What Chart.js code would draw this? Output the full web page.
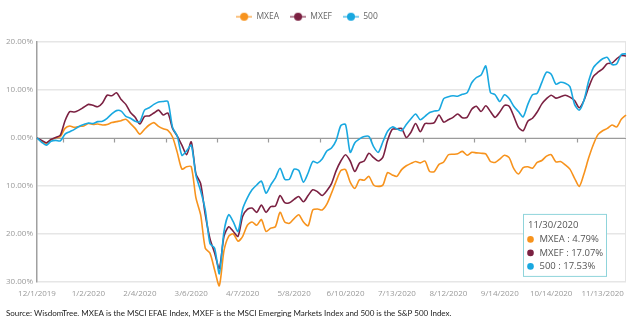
<!DOCTYPE html>
<html>
<head>
<meta charset="utf-8">
<script src="https://cdn.jsdelivr.net/npm/chart.js@4.4.0/dist/chart.umd.min.js"></script>
<style>
  html, body { margin: 0; padding: 0; background: #fff; }
  #wrap { width: 640px; height: 324px; position: relative; }
</style>
</head>
<body>
<div id="wrap"><canvas id="perf_chart"></canvas></div>
<script>
// labelled dates on the x axis, one every STEP points
const tickLabels = [
  "12/1/2019", "1/2/2020", "2/4/2020", "3/6/2020", "4/7/2020", "5/8/2020",
  "6/10/2020", "7/13/2020", "8/12/2020", "9/14/2020", "10/14/2020", "11/13/2020",
];
const STEP = 11;
const lastDate = "11/30/2020";
const sourceText = "Source: WisdomTree. MXEA is the MSCI EFAE Index, MXEF is the MSCI Emerging Markets Index and 500 is the S&P 500 Index.";

// cumulative return, % (about every 2nd trading day)
const mxea = [
  0, -0.7, -1.1, -0.4, 0, 0.3, 2.0, 2.5, 2.2, 2.4,
  2.5, 3.0, 2.8, 2.9, 2.7, 2.8, 3.2, 3.4, 3.6, 3.9,
  3.0, 2.0, 0.8, 1.8, 2.7, 3.2, 2.4, 1.9, 1.6, 0.2,
  -3.0, -6.5, -6.0, -6.0, -12.5, -16.0, -23.0, -24.0, -27.5, -30.8,
  -23.5, -20.5, -20.0, -21.5, -20.5, -18.2, -17.5, -18.2, -17.0, -19.5,
  -18.8, -18.5, -15.5, -17.5, -17.8, -16.8, -16.0, -17.5, -18.3, -15.0,
  -14.8, -15.0, -13.8, -11.5, -9.0, -6.8, -6.6, -9.2, -10.5, -8.7,
  -8.8, -8.0, -9.8, -10.1, -9.8, -7.2, -7.7, -8.0, -6.6, -5.8,
  -5.3, -4.9, -5.2, -4.8, -7.0, -7.0, -5.5, -5.0, -3.5, -3.4,
  -3.3, -2.8, -3.6, -3.0, -3.1, -3.2, -3.3, -4.9, -5.1, -4.4,
  -3.6, -4.1, -6.4, -7.5, -6.2, -6.0, -6.3, -5.1, -4.7, -3.8,
  -3.5, -5.0, -4.9, -5.6, -6.5, -8.4, -10.1, -7.5, -4.2, -1.4,
  0.7, 1.5, 2.0, 2.7, 2.3, 3.9, 4.79,
];
const mxef = [
  0, -0.5, -1.0, -0.3, 0.1, 0.6, 3.6, 5.5, 5.4, 5.8,
  6.4, 7.0, 6.8, 6.5, 7.3, 8.9, 8.8, 9.4, 8.0, 7.0,
  5.3, 4.3, 2.9, 4.5, 4.6, 5.2, 5.8, 4.8, 5.2, 2.0,
  0.4, -1.5, -3.5, -0.8, -7.5, -9.5, -16.0, -21.0, -24.0, -27.2,
  -20.5, -18.5, -19.5, -20.5, -16.3, -14.9, -14.6, -15.5, -14.0, -15.5,
  -14.3, -14.2, -12.0, -13.5, -13.5, -12.8, -12.2, -13.3, -12.0, -10.8,
  -11.2, -12.0, -11.0, -9.5, -6.8, -4.8, -3.5, -4.8, -7.0, -5.2,
  -4.8, -3.2, -4.1, -4.8, -4.0, -0.5, 1.8, 1.9, 2.0, 0.1,
  1.2, 3.0, 1.3, 3.0, 3.0, 3.2, 4.8, 3.3, 3.8, 4.3,
  5.0, 4.2, 4.3, 6.0, 6.6, 5.5, 6.7, 5.5, 4.3, 5.4,
  6.8, 6.6, 4.5, 2.2, 1.5, 3.5, 4.1, 5.4, 7.1, 8.2,
  8.9, 8.3, 8.6, 8.9, 8.5, 7.8, 6.3, 7.8, 10.5, 12.8,
  13.7, 14.4, 15.5, 15.6, 16.5, 17.2, 17.07,
];
const sp500 = [
  0, -0.9, -1.5, -0.7, -0.5, -0.6, 0.8, 1.3, 1.8, 2.4,
  2.8, 3.1, 3.0, 3.4, 3.5, 4.1, 5.0, 5.7, 5.6, 4.5,
  4.1, 3.5, 3.4, 5.8, 6.3, 7.0, 7.5, 7.6, 7.6, 2.2,
  0.4, -3.6, -2.7, -1.5, -7.8, -11.0, -15.0, -22.0, -23.0, -28.3,
  -19.5, -16.0, -17.5, -19.5, -14.8, -12.5, -10.8, -9.8, -9.0, -11.5,
  -9.8, -8.3, -6.3, -8.6, -8.6, -6.5, -6.8, -9.2, -7.3, -4.9,
  -5.2, -4.4, -2.7, -2.1, -0.5, 2.6, 2.8, -3.0, -1.0, -0.2,
  0.3, 0.3, -1.8, -3.0, -0.8, 1.4, 2.3, 1.9, 1.5, 2.8,
  4.0, 5.0, 3.8, 4.5, 5.3, 5.6, 5.8, 8.2, 8.6, 8.8,
  8.7, 9.1, 9.4, 11.5, 12.6, 13.1, 15.0, 9.5, 9.0, 7.6,
  9.0, 8.2, 6.6, 5.5, 4.4, 7.0, 9.0, 9.3, 11.6, 13.7,
  13.3, 11.2, 11.6, 11.4, 10.7, 7.0, 5.8, 7.8, 11.8, 14.6,
  15.7, 16.5, 16.8, 15.3, 15.4, 17.4, 17.53,
];

const COLORS = { mxea: "#F7931D", mxef: "#7B2142", sp500: "#19A8E0" };
const FONT = "'Open Sans', 'DejaVu Sans', sans-serif";

// legend marker: short line with a dot in the middle
function legendMark(color) {
  const c = document.createElement("canvas");
  c.width = 16; c.height = 10;
  const g = c.getContext("2d");
  g.globalAlpha = 0.55;
  g.strokeStyle = color; g.lineWidth = 2;
  g.beginPath(); g.moveTo(0, 5); g.lineTo(16, 5); g.stroke();
  g.globalAlpha = 1;
  g.fillStyle = color;
  g.beginPath(); g.arc(8, 5, 4, 0, Math.PI * 2); g.fill();
  return c;
}

// fixed legend band height, legend nudged a bit left/down like the original
const legendPlace = {
  id: "legendPlace",
  beforeInit(chart) {
    if (!chart.legend) return;
    const fit = chart.legend.fit;
    chart.legend.fit = function () { fit.call(this); this.height = 42; };
  },
  afterLayout(chart) {
    const lg = chart.legend;
    if (!lg) return;
    lg.left -= 9; lg.right -= 9;
    lg.top += 1.5; lg.bottom += 1.5;
  },
};

// zero axis line with tick marks, right border
const decor = {
  id: "decor",
  beforeDatasetsDraw(chart) {
    const { ctx, chartArea: a, scales: { x, y } } = chart;
    ctx.save();
    ctx.strokeStyle = "#e4e4e4";
    ctx.lineWidth = 1;
    ctx.beginPath();
    ctx.moveTo(a.right - 0.5, a.top);
    ctx.lineTo(a.right - 0.5, a.bottom);
    ctx.stroke();

    const y0 = Math.round(y.getPixelForValue(0)) + 0.5;
    ctx.strokeStyle = "#9b9b9b";
    ctx.lineWidth = 1.2;
    ctx.beginPath();
    ctx.moveTo(a.left, y0);
    ctx.lineTo(a.right, y0);
    for (let k = 0; k < tickLabels.length - 1; k++) {
      const px = Math.round(x.getPixelForValue(k * STEP + STEP / 2)) + 0.5;
      ctx.moveTo(px, y0);
      ctx.lineTo(px, y0 + 4);
    }
    ctx.stroke();
    ctx.restore();
  },
};

// the static hover box for the last date
const snapshot = {
  id: "snapshot",
  afterDraw(chart) {
    const { ctx, chartArea: a } = chart;
    const bx = a.right - 102.5, by = a.bottom - 67.5, bw = 83, bh = 62;
    ctx.save();
    ctx.fillStyle = "#fff";
    ctx.fillRect(bx, by, bw, bh);
    ctx.strokeStyle = "#8fd4db";
    ctx.lineWidth = 1;
    ctx.strokeRect(bx, by, bw, bh);

    ctx.font = "9.5px " + FONT;
    ctx.textBaseline = "middle";
    ctx.fillStyle = "#555";
    ctx.fillText(lastDate, bx + 4.5, by + 11);
    const rows = [
      ["MXEA", mxea, COLORS.mxea],
      ["MXEF", mxef, COLORS.mxef],
      ["500", sp500, COLORS.sp500],
    ];
    rows.forEach(([name, arr, color], k) => {
      const ry = by + 25 + k * 13.5;
      ctx.fillStyle = color;
      ctx.beginPath();
      ctx.arc(bx + 7, ry, 3.3, 0, Math.PI * 2);
      ctx.fill();
      ctx.fillStyle = "#555";
      ctx.fillText(name + " : " + arr[arr.length - 1].toFixed(2) + "%", bx + 16, ry);
    });
    ctx.restore();
  },
};

function series(label, data, color, order) {
  return {
    label: label,
    data: data,
    borderColor: color,
    backgroundColor: color,
    borderWidth: 1.6,
    pointRadius: 0,
    tension: 0.25,
    order: order,
    clip: 6,
    legendMark: legendMark(color),
  };
}

const ctx = document.getElementById("perf_chart").getContext("2d");
const perfChart = new Chart(ctx, {
  type: "line",
  data: {
    labels: mxea.map((_, i) => i),
    datasets: [
      series("MXEA", mxea, COLORS.mxea, 3),
      series("MXEF", mxef, COLORS.mxef, 2),
      series("500", sp500, COLORS.sp500, 1),
    ],
  },
  options: {
    responsive: true,
    maintainAspectRatio: false,
    animation: false,
    devicePixelRatio: 1,
    layout: { padding: { left: 6, right: 14, top: 0, bottom: 0 } },
    plugins: {
      tooltip: { enabled: false },
      legend: {
        position: "top",
        labels: {
          usePointStyle: true,
          pointStyleWidth: 16,
          padding: 11,
          color: "#666",
          font: { family: FONT, size: 8.5 },
          sort: (a, b) => a.datasetIndex - b.datasetIndex,
          generateLabels: (chart) =>
            chart.data.datasets.map((ds, i) => ({
              text: ds.label,
              fillStyle: ds.borderColor,
              strokeStyle: ds.borderColor,
              fontColor: "#666",
              lineWidth: 0,
              pointStyle: ds.legendMark,
              datasetIndex: i,
              hidden: false,
            })),
        },
      },
      title: {
        display: true,
        position: "bottom",
        align: "start",
        text: sourceText,
        color: "#222",
        font: { family: "Lato, 'Open Sans', sans-serif", size: 8, weight: "normal" },
        padding: { top: 6, bottom: 5.5 },
      },
    },
    scales: {
      x: {
        grid: { display: false, drawTicks: false },
        border: { display: false },
        ticks: {
          autoSkip: false,
          maxRotation: 0,
          minRotation: 0,
          padding: 7,
          color: "#9a9a9a",
          font: { family: FONT, size: 8 },
          callback: (value, index) => (index % STEP === 0 ? tickLabels[index / STEP] : ""),
        },
        afterFit: (scale) => { scale.height = 21; },
      },
      y: {
        min: -30,
        max: 20,
        grid: { color: "#e6e6e6", lineWidth: 1.5, drawTicks: false },
        border: { color: "#a0a0a0", width: 1.5 },
        ticks: {
          stepSize: 10,
          padding: 4,
          color: "#9a9a9a",
          font: { family: FONT, size: 8 },
          callback: (value) => value.toFixed(2) + "%",
        },
        afterFit: (scale) => { scale.width = 31; },
      },
    },
  },
  plugins: [legendPlace, decor, snapshot],
});
</script>
</body>
</html>
